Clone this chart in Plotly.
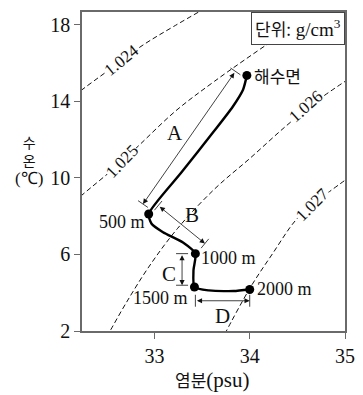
import math
import plotly.graph_objects as go

# -- Data (salinity psu, temperature degC) --------------------------------------
# T-S profile of the water column
PROF_S = [33.97, 33.93, 33.82, 33.62, 33.28, 32.94, 32.97, 33.09, 33.30,
          33.43, 33.41, 33.42, 33.57, 33.83, 34.00]
PROF_T = [15.35, 14.60, 13.70, 12.40, 10.26, 8.11, 7.60, 7.16, 6.62,
          6.04, 5.17, 4.30, 4.12, 4.09, 4.17]

DEPTH_NAMES = ["해수면", "500 m", "1000 m", "1500 m", "2000 m"]
DEPTH_S     = [33.97, 32.94, 33.43, 33.42, 34.00]
DEPTH_T     = [15.35, 8.11, 6.04, 4.30, 4.17]

# isopycnals (g/cm3)
RHO_NAMES = ["1.024", "1.025", "1.026", "1.027"]
RHO_S = [
    [32.10, 32.24, 32.50, 32.87, 33.20, 33.55],
    [32.10, 32.24, 32.66, 32.85, 33.22, 33.63, 34.20, 34.55],
    [32.50, 32.54, 32.70, 32.94, 33.24, 33.63, 34.01, 34.38, 34.70, 35.05],
    [33.74, 33.76, 34.01, 34.24, 34.48, 34.66, 35.05],
]
RHO_T = [
    [14.05, 14.60, 15.55, 16.90, 17.90, 18.90],
    [8.50, 9.10, 10.85, 11.75, 13.48, 15.04, 17.03, 18.20],
    [1.70, 2.05, 3.44, 5.34, 7.34, 9.41, 11.05, 12.70, 14.00, 15.20],
    [1.85, 2.05, 4.30, 6.04, 7.77, 8.60, 10.05],
]
RHO_LABEL_S = [32.65, 32.66, 34.59, 34.66]
RHO_LABEL_T = [16.15, 10.85, 13.71, 8.60]

# measurement arrows A-D (start S, start T, end S, end T)
ARROW_NAMES = ["A", "B", "C", "D"]
ARROW_S0 = [33.85, 33.04, 33.29, 33.43]
ARROW_T0 = [15.56, 8.55, 6.04, 3.58]
ARROW_S1 = [32.88, 33.53, 33.29, 34.00]
ARROW_T1 = [8.63, 6.57, 4.39, 3.58]
ARROW_LABEL_S = [33.22, 33.39, 33.15, 33.71]
ARROW_LABEL_T = [12.32, 8.07, 5.00, 2.78]

X_RANGE = [32.24, 35.0]
Y_RANGE = [2.0, 18.66]

# -- Style ----------------------------------------------------------------------
SERIF = "Liberation Serif, Times New Roman, DejaVu Serif, serif"
KR    = "Noto Sans CJK KR"
AXC   = "#6a6a6a"
INK   = "#111111"

# page body has an 8px margin, so the figure is 8px smaller on each side
W, H = 355, 387
ML, MR, MT, MB = 74, 18, 2, 64
PX_X = (W - ML - MR) / (X_RANGE[1] - X_RANGE[0])   # px per psu
PX_Y = (H - MT - MB) / (Y_RANGE[1] - Y_RANGE[0])   # px per degC

fig = go.Figure()

for s, t in zip(RHO_S, RHO_T):
    fig.add_trace(go.Scatter(x=s, y=t, mode="lines", line_shape="spline",
        line=dict(color=INK, width=1, dash="5px,3px"), hoverinfo="skip"))

fig.add_trace(go.Scatter(x=PROF_S, y=PROF_T, mode="lines",
    line=dict(color="black", width=2.4, shape="spline", smoothing=0.6),
    hoverinfo="skip"))
fig.add_trace(go.Scatter(x=DEPTH_S, y=DEPTH_T, mode="markers",
    marker=dict(color="black", size=9), hoverinfo="skip"))

# isopycnal labels
for name, s, t, ang in zip(RHO_NAMES, RHO_LABEL_S, RHO_LABEL_T, [-39, -46, -42, -45]):
    fig.add_annotation(x=s, y=t, text=name, showarrow=False, textangle=ang,
        bgcolor="white", borderpad=0,
        font=dict(family=SERIF, size=17, color=INK))

# arrows with end bars
for name, s0, t0, s1, t1, ls, lt in zip(ARROW_NAMES, ARROW_S0, ARROW_T0, ARROW_S1,
                                        ARROW_T1, ARROW_LABEL_S, ARROW_LABEL_T):
    fig.add_annotation(x=s1, y=t1, ax=s0, ay=t0, xref="x", yref="y",
        axref="x", ayref="y", text="", showarrow=True, arrowside="end+start",
        arrowhead=2, arrowsize=1.3, arrowwidth=0.8, arrowcolor=INK,
        standoff=0, startstandoff=0)
    dx, dy = (s1 - s0) * PX_X, (t1 - t0) * PX_Y
    n = math.hypot(dx, dy)
    px, py = -dy / n * 6, dx / n * 6
    for s, t in [(s0, t0), (s1, t1)]:
        fig.add_shape(type="line", x0=s - px / PX_X, y0=t - py / PX_Y,
            x1=s + px / PX_X, y1=t + py / PX_Y,
            line=dict(color=INK, width=0.8))
    fig.add_annotation(x=ls, y=lt, text=name, showarrow=False,
        font=dict(family=SERIF, size=21, color=INK))

# depth labels
fig.add_annotation(x=DEPTH_S[0], y=DEPTH_T[0], text=DEPTH_NAMES[0], showarrow=False,
    xanchor="left", xshift=5, font=dict(family=KR, size=17, color=INK))
for i, (xa, xs, ys) in zip(range(1, 5), [("right", -2, -8), ("left", 4, -4),
                                        ("right", -4, -11), ("left", 5, 0)]):
    fig.add_annotation(x=DEPTH_S[i], y=DEPTH_T[i], text=DEPTH_NAMES[i],
        showarrow=False, xanchor=xa, xshift=xs, yshift=ys,
        font=dict(family=SERIF, size=18, color=INK))

# unit box
fig.add_annotation(xref="paper", yref="paper", x=1, y=1, xanchor="right",
    yanchor="top", showarrow=False, bgcolor="white", bordercolor="#444",
    borderwidth=1, borderpad=3,
    text=f"<span style='font-family:{KR};font-size:17px'>단위:</span> g/cm<sup>3</sup>",
    font=dict(family=SERIF, size=19, color=INK))

# axis titles
fig.add_annotation(xref="paper", yref="paper", x=0.494, y=-0.153, showarrow=False,
    xanchor="center", yanchor="middle",
    text="염분<span style='font-family:Liberation Serif;font-size:21px'>(psu)</span>",
    font=dict(family=KR, size=17, color=INK))
fig.add_annotation(xref="paper", yref="paper", x=-0.2, y=0.535, showarrow=False,
    xanchor="center", yanchor="middle",
    text="수<br>온<br><span style='font-family:Liberation Serif;font-size:17px'>(℃)</span>",
    font=dict(family=KR, size=14, color=INK))

axis = dict(showline=True, mirror=True, linecolor=AXC, linewidth=1.5,
            ticks="outside", ticklen=6, tickcolor=AXC, showgrid=False,
            zeroline=False, tickfont=dict(family=SERIF, size=20, color=INK))
fig.update_xaxes(range=X_RANGE, tickvals=[33, 34, 35], **axis)
fig.update_yaxes(range=Y_RANGE, tickvals=[2, 6, 10, 14, 18], **axis)

fig.update_layout(width=W, height=H, showlegend=False,
    margin=dict(l=ML, r=MR, t=MT, b=MB),
    paper_bgcolor="white", plot_bgcolor="white")

fig.write_html("out.html")
